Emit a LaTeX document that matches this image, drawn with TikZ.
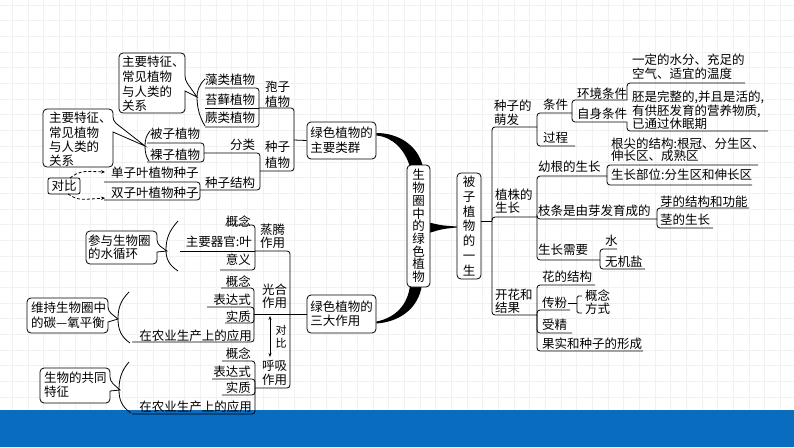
\documentclass[tikz,border=0pt]{standalone}
\usepackage{fontspec}
\newfontfamily\cjk{Noto Sans CJK SC}
\usetikzlibrary{arrows.meta,calc}
\newcommand\fz[1]{\cjk\fontsize{12.5}{#1}\selectfont}
\definecolor{barblue}{HTML}{0A6CBF}
\definecolor{gridc}{HTML}{F1F1F1}
\pgfdeclarelayer{back}
\pgfdeclarelayer{bg}
\pgfsetlayers{back,bg,main}
\begin{document}
\begin{tikzpicture}[x=1pt,y=-1pt,
  tx/.style={font={\fz{14}}, inner sep=0pt, align=left},
  ln/.style={line width=0.8pt, rounded corners=3pt},
  bx/.style={draw, line width=0.8pt, rounded corners=4pt, fill=white, inner sep=0pt},
  co/.style={draw, line width=0.8pt, fill=white, rounded corners=4pt},
  br/.style={line width=0.8pt}]
\useasboundingbox (0,0) rectangle (794,447);
\begin{pgfonlayer}{back}
\fill[white] (0,0) rectangle (794,447);
\foreach \i in {0,...,50} {\draw[gridc, line width=0.4pt] ({12.3+15.67*\i},0) -- ({12.3+15.67*\i},410);}
\foreach \i in {0,...,26} {\draw[gridc, line width=0.4pt] (0,{5+15.67*\i}) -- (794,{5+15.67*\i});}
\fill[barblue] (0,410) rectangle (794,447);
\end{pgfonlayer}

% ---------- centre ----------
\node[bx, font={\fz{12.7}}, align=center, minimum width=23pt, minimum height=122pt] (ctr) at (418.5,226) {生\\物\\圈\\中\\的\\绿\\色\\植\\物};
\node[bx, font={\fz{14.7}}, align=center, minimum width=24pt, minimum height=106pt] (life) at (469,226) {被\\子\\植\\物\\的\\一\\生};
\node[bx, font={\fz{15}}, align=left, minimum width=69pt, minimum height=37pt] (grp) at (341.5,140.5) {绿色植物的\\主要类群};
\node[bx, font={\fz{14}}, align=left, minimum width=69pt, minimum height=38pt] (three) at (341.5,314) {绿色植物的\\三大作用};

\begin{pgfonlayer}{bg}
\fill ($(grp.east)+(0,-7.5)$) .. controls (398,133) and (418,145) .. (423,167) -- (410,167) .. controls (405,150) and (393,137) .. ($(grp.east)+(0,-5)$) -- cycle;
\fill (410,285) .. controls (408,305) and (395,318) .. ($(three.east)+(0,7.5)$) -- ($(three.east)+(0,9.5)$) .. controls (398,322) and (418,310) .. (422,285) -- cycle;
\fill (429,222.5) .. controls (442,225.5) .. ($(life.west)+(0,0.5)$) -- ($(life.west)+(0,1.5)$) .. controls (442,229) .. (429,233) -- cycle;
\end{pgfonlayer}

% ---------- top-left: main groups ----------
\node[tx, anchor=west] (zao) at (205,80) {藻类植物};
\node[tx, anchor=west] (tai) at (205,100) {苔藓植物};
\node[tx, anchor=west] (jue) at (205,118) {蕨类植物};
\node[tx, anchor=west, font={\fz{15}}] (baozi) at (265,94.5) {孢子\\植物};
\node[tx, anchor=west] (beizi) at (150,134) {被子植物};
\node[tx, anchor=west] (luozi) at (150,155) {裸子植物};
\node[tx, anchor=west] (fenlei) at (230,145) {分类};
\node[tx, anchor=west, font={\fz{16}}] (zhongzi) at (265,155) {种子\\植物};
\node[tx, anchor=west] (jiegou) at (205,183) {种子结构};
\node[tx, anchor=west] (dan) at (111,173) {单子叶植物种子};
\node[tx, anchor=west] (shuang) at (111,193) {双子叶植物种子};
\node[draw, line width=0.8pt, rounded corners=2pt, font={\fz{14}}, inner sep=0pt, minimum width=32pt, minimum height=16pt] (dui) at (64,186) {对比};

\draw[ln] (205,88) -| (259,108);
\draw[ln] (205,108) -- (259,108);
\draw[ln] (205,127) -| (259,108);
\draw[ln] (259,108) -| (294,140);
\draw[ln] (260,171) -| (294,140);
\draw[ln] (294,140) -- (grp.west);
\draw[ln] (204,153) -| (260,171);
\draw[ln] (200,190) -| (260,171);
\draw[ln] (147,143) -| (204,153);
\draw[ln] (147,162) -| (204,153);
\draw[ln] (104,182) -| (200,190);
\draw[ln] (104,200) -| (200,190);

\draw[line width=0.8pt, dash pattern=on 3pt off 2pt, -{Stealth[length=4pt,width=3.5pt]}] (70,178) .. controls (80,171) .. (105,172);
\draw[line width=0.8pt, dash pattern=on 3pt off 2pt, -{Stealth[length=4pt,width=3.5pt]}] (68,194) .. controls (78,200) .. (105,198);

% callouts top-left
\draw[co] (119,53) -- (185,53) -- (185,80) [sharp corners] -- (197,97) -- (185,91) [rounded corners=4pt] -- (185,113) -- (119,113) -- cycle;
\node[tx, anchor=west, font={\fz{14.7}}] (c1) at (122,84) {主要特征、\\常见植物\\与人类的\\关系};
\draw[br] (205,79) .. controls (199,85) and (197,91) .. (197,97) .. controls (197,108) and (200,118) .. (205,126);

\draw[co] (43,109) -- (113,109) -- (113,121) [sharp corners] -- (145,146) -- (113,132) [rounded corners=4pt] -- (113,167) -- (43,167) -- cycle;
\node[tx, anchor=west, font={\fz{14.3}}] (c2) at (49,139.5) {主要特征、\\常见植物\\与人类的\\关系};
\draw[br] (150,131) .. controls (146,136) and (145,140) .. (145,146) .. controls (145,152) and (146,157) .. (149,161);

% ---------- right: life of angiosperm ----------
\draw[ln] ($(life.east)+(0,-5)$) -- (492,221);
\draw[ln] (537,127) -| (492,221);
\draw[ln] (537,217) -| (492,221);
\draw[ln] (537,315) -| (492,221);
\node[tx, anchor=west] (mengfa) at (494,113) {种子的\\萌发};
\node[tx, anchor=west, font={\fz{13}}] (zhizhu) at (495,201.5) {植株的\\生长};
\node[tx, anchor=west, font={\fz{13}}] (kaihua) at (495,301.5) {开花和\\结果};

\draw[ln] (572,113) -| (537,127);
\draw[ln] (575,146) -| (537,127);
\node[tx, anchor=west] (tiaojian) at (543,105) {条件};
\node[tx, anchor=west] (guocheng) at (543,138) {过程};
\draw[ln] (627,100) -| (572,113);
\draw[ln] (627,122) -| (572,113);
\node[tx, anchor=west] (huanjing) at (577,94) {环境条件};
\node[tx, anchor=west] (zishen) at (577,114) {自身条件};
\draw[ln] (745,83) -| (627,100);
\draw[ln] (768,131) -| (627,122);
\node[tx, anchor=west] (shuifen) at (632,67) {一定的水分、充足的\\空气、适宜的温度};
\node[tx, anchor=west, font={\fz{13.5}}] (pei) at (632,110.5) {胚是完整的,并且是活的,\\有供胚发育的营养物质,\\已通过休眠期};

\draw[ln] (607,176) -| (537,217);
\draw[ln] (657,219) -| (537,217);
\draw[ln] (600,260) -| (537,217);
\node[tx, anchor=west] (yougen) at (538,167) {幼根的生长};
\node[tx, anchor=west] (zhitiao) at (538,211) {枝条是由芽发育成的};
\node[tx, anchor=west] (xuyao) at (538,250) {生长需要};
\draw[ln] (758,165) -| (607,176);
\draw[ln] (752,185) -| (607,176);
\node[tx, anchor=west, font={\fz{12.5}}] (genjian) at (611,150) {根尖的结构:根冠、分生区、\\伸长区、成熟区};
\node[tx, anchor=west] (buwei) at (611,175) {生长部位:分生区和伸长区};
\draw[ln] (749,208) -| (657,219);
\draw[ln] (713,228) -| (657,219);
\node[tx, anchor=west] (ya) at (660,202) {芽的结构和功能};
\node[tx, anchor=west] (jing) at (660,220) {茎的生长};
\draw[ln] (617,249) -| (600,260);
\draw[ln] (645,269) -| (600,260);
\node[tx, anchor=west] (shui) at (605,241) {水};
\node[tx, anchor=west] (wuji) at (605,262) {无机盐};

\draw[ln] (595,285) -| (537,315);
\draw[ln] (570,310) -| (537,315);
\draw[ln] (572,333) -| (537,315);
\draw[ln] (643,351) -| (537,315);
\node[tx, anchor=west] (hua) at (542,277) {花的结构};
\node[tx, anchor=west] (chuanfen) at (542,303) {传粉};
\node[tx, anchor=west] (shoujing) at (542,325) {受精};
\node[tx, anchor=west] (guoshi) at (542,344) {果实和种子的形成};
\draw[ln] (568,303) -- (577,303);
\draw[line width=0.8pt, rounded corners=1.5pt] (582,296) -| (577,313) -- (582,313);
\node[tx, anchor=west] (gn0) at (585,296) {概念};
\node[tx, anchor=west] (fs0) at (585,309) {方式};

% ---------- bottom-left: three functions ----------
\draw[ln] (three.west) -- (290,314);
\draw[ln] (255,251) -| (290,314);
\draw[ln] (254,314) -- (290,314);
\draw[ln] (255,388) -| (290,314);
\node[tx, anchor=west, font={\fz{13}}] (zhengteng) at (260,236.5) {蒸腾\\作用};
\node[tx, anchor=west, font={\fz{13}}] (guanghe) at (262,296.5) {光合\\作用};
\node[tx, anchor=west, font={\fz{14}}] (huxi) at (262,373) {呼吸\\作用};

\draw[ln] (225,225) -| (255,251);
\draw[ln] (180,251) -- (255,251);
\draw[ln] (220,270) -| (255,251);
\node[tx, anchor=east] (zt1) at (251,222) {概念};
\node[tx, anchor=east] (zt2) at (252,242) {主要器官:叶};
\node[tx, anchor=east] (zt3) at (251,260) {意义};

\draw[ln] (221,288) -| (254,314);
\draw[ln] (207,307) -| (254,314);
\draw[ln] (225,323) -| (254,314);
\draw[ln] (132,342) -| (254,314);
\node[tx, anchor=east] (gh1) at (251,282) {概念};
\node[tx, anchor=east] (gh2) at (251,300) {表达式};
\node[tx, anchor=east] (gh3) at (251,317) {实质};
\node[tx, anchor=east] (gh4) at (252,336) {在农业生产上的应用};

\draw[ln] (222,361) -| (255,388);
\draw[ln] (212,379) -| (255,388);
\draw[ln] (222,395) -| (255,388);
\draw[ln] (132,414) -| (255,388);
\node[tx, anchor=east] (hx1) at (251,354) {概念};
\node[tx, anchor=east] (hx2) at (251,372) {表达式};
\node[tx, anchor=east] (hx3) at (251,388) {实质};
\node[tx, anchor=east] (hx4) at (252,407) {在农业生产上的应用};

\draw[line width=0.8pt, {Stealth[length=4pt,width=3pt]}-{Stealth[length=4pt,width=3pt]}] (270,316) -- (270,357);
\node[font={\cjk\fontsize{11}{13}\selectfont}, align=center, inner sep=0pt] (db) at (281,336.5) {对\\比};

% callouts bottom-left
\draw[co] (86,231) -- (157,231) -- (157,244) [sharp corners] -- (167,251) -- (157,252) [rounded corners=4pt] -- (157,264) -- (86,264) -- cycle;
\node[tx, anchor=west, font={\fz{13}}] (c3) at (88,247.5) {参与生物圈\\的水循环};
\draw[br] (178,221) .. controls (169,231) and (166,239) .. (166,250) .. controls (166,259) and (169,265) .. (178,271);

\draw[co] (27,298) -- (108,298) -- (108,311) [sharp corners] -- (118,319) -- (108,322) [rounded corners=4pt] -- (108,333) -- (27,333) -- cycle;
\node[tx, anchor=west, font={\fz{15}}] (c4) at (31,315.5) {维持生物圈中\\的碳—氧平衡};
\draw[br] (129,292) .. controls (120,301) and (118,309) .. (118,319) .. controls (118,329) and (121,337) .. (130,343);

\draw[co] (40,368) -- (110,368) -- (110,381) [sharp corners] -- (120,390) -- (110,391) [rounded corners=4pt] -- (110,403) -- (40,403) -- cycle;
\node[tx, anchor=west, font={\fz{14}}] (c5) at (44,385) {生物的共同\\特征};
\draw[br] (129,362) .. controls (121,371) and (119,380) .. (119,390) .. controls (119,400) and (122,407) .. (131,413);
\end{tikzpicture}
\end{document}
